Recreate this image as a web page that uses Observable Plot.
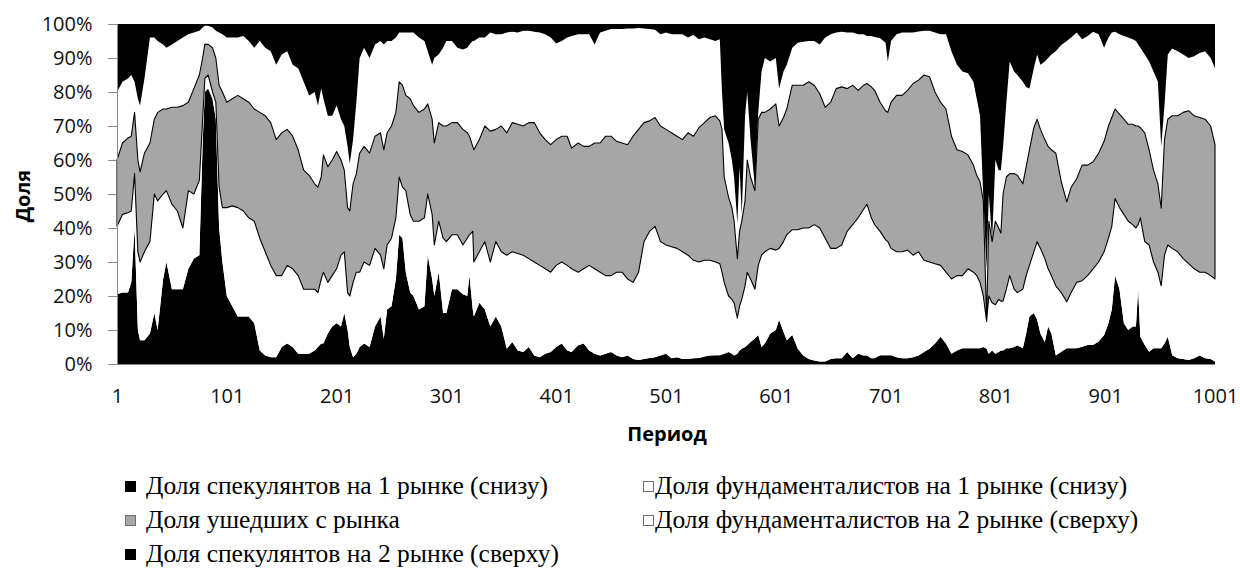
<!DOCTYPE html>
<html><head><meta charset="utf-8">
<script src="https://cdn.jsdelivr.net/npm/d3@7"></script>
<script src="https://cdn.jsdelivr.net/npm/@observablehq/plot@0.6"></script>
<style>
body{margin:0;background:#fff;}
#wrap{position:relative;width:1240px;height:577px;overflow:hidden;background:#fff;}
.sw{position:absolute;width:11px;height:11px;box-sizing:border-box;}
.lt{position:absolute;font-family:"Liberation Serif","Times New Roman",serif;font-size:25.5px;color:#000;white-space:nowrap;line-height:30px;height:30px;}
</style></head><body><div id="wrap"></div>
<script>
const periods = [
1,6,11,14,17,20,22,26,31,35,
38,43,46,51,56,61,66,71,76,79,
81,84,88,91,94,97,101,106,111,116,
121,126,131,136,141,146,151,156,161,166,
171,176,181,184,187,189,193,197,201,205,
208,211,213,216,219,222,226,231,236,241,
244,247,251,255,258,261,264,268,271,276,
281,284,288,290,294,298,301,306,311,316,
320,322,325,326,331,336,341,346,351,356,
361,366,371,376,381,386,391,396,401,406,
411,415,421,426,431,436,441,446,451,456,
461,466,471,476,481,486,491,496,501,506,
511,516,521,526,531,536,541,546,550,552,
554,558,561,563,566,568,570,573,575,578,
582,585,588,591,596,601,604,608,611,616,
621,626,631,636,641,646,651,656,661,666,
671,676,681,684,688,691,696,701,703,706,
711,716,721,726,731,736,741,746,751,756,
761,766,771,776,781,784,787,790,793,795,
798,801,804,806,808,811,814,818,821,826,
829,832,836,839,842,846,849,852,856,861,
866,870,875,880,885,890,895,900,904,907,
910,914,918,922,926,929,931,933,937,941,
945,949,952,955,958,962,967,972,977,982,
987,992,997,1001];

// Доля спекулянтов на 1 рынке (снизу), %
const spec1 = [
20.5,21,21,24,40,10,7,7,9,15,
10,25,30,22,22,22,28,31,32,65,
80,81,78,72,40,30,20,17,14,14,
14,12,4,2.5,2,2,5,6,5,3,
3,3,4,5,6,6,9,11,12,11,
15,10,5,2,3,5,6,5,11,14,
7.5,16,17,25,38,37,27,21,20,16,
17,32,25,20,27,15,15,22,22,20.5,
20,26,16,14,18,16,11,14,11,4.5,
6.5,4,3.5,5,2.5,2,3,3.5,5,6,
4,3.5,5.5,6,4,3,2.5,3,3.5,2.5,
2,2.5,1.5,1.2,1.5,1.8,2,2.5,3,1.7,
2,1.5,1.5,1.7,1.8,2.2,2.5,2.6,2.6,2.8,
3,3.5,3,2.5,3,4,4.5,5,5.5,6.5,
7.5,8.5,5,6,9,10,13,9.5,7,8.5,
4.5,2.5,1.5,1,0.7,0.7,1.5,1.7,1.7,3.5,
1.7,3,2.5,2.5,1.7,1.7,2.6,2.6,2.6,2.6,
2,1.7,1.7,2,2.5,3.5,4.5,6,8,6,
3,4,4.6,4.6,4.6,4.6,4.6,5,4.5,3,
4,3,3.5,4,4,4.6,4.6,5,5.5,4.6,
9,14,15,13,9,6.5,11,9,2.5,3.6,
4.6,4.6,4.6,5.1,5.6,5.6,6.6,8.5,12,16,
26,22,12,10,11,11,22,8,5.6,3.6,
4.6,4.6,4.6,6,8,2.6,1.7,1.5,1.2,1.7,
2.5,1.7,1.5,0.7];

// Доля фундаменталистов на 1 рынке (снизу), %
const fund1 = [
20,23,23.5,21,16,23,23,26,27,35,
38,25,21,25,23,18,23,19,22,7,
4,4,2,5,12,16,26,29.5,32,31,
29,30,33,30.5,27,24,21,23,23,23,
19,19,18,16,19,21,15,15,16,21,
18,11,15,22,24,22,24,24,23,18,
20.5,19,20,18,17,15,24,23,22,26,
26,18,19,15,15,22,21,16,16,14.5,
17,12,23,16,15,20,19,22,22,27.5,
26.5,28.5,28.5,26,27.5,27,25,23.5,24,24,
25,24.5,21.5,22,25,25,24.5,23,22.5,24.5,
25,22.5,22.5,25.8,34.5,37.2,38.5,33.5,32,32.8,
32,31.5,30.5,28.8,28.2,28.3,28,27.4,26.9,24.2,
21,16.5,16,15.5,10.5,13,14.5,18,21.5,18.5,
14.5,20.5,27,27,25,23.5,21,26.5,31,31,
35,37.5,38.5,40,39.3,36.3,32.5,32.3,33.3,35.5,
39.3,40,43,44.5,41.3,39.3,36.4,33.9,33.4,31.4,
31,31.3,31.8,30,30.5,27,25.5,23.5,21,21,
22,22,21.4,23.4,22.4,21.4,19.4,15,8,17,
14,14.4,15.5,14.5,14.5,17.4,21.4,17,15.5,17.4,
17,15,18,23,25,24.5,17,17,20.5,17.4,
13.7,16.4,19.4,19.4,20.4,22.4,23.4,24.5,25,24.5,
22.7,24,32,32,30,29,19,35,30.4,31.4,
25.4,22.4,18.4,26,27,31.4,31.3,29.5,28.3,26.3,
24.5,25.3,24.5,24.3];

// Доля ушедших с рынка, %
const leftMarket = [
19.5,21,22,22,18,27,26.5,29,29,22,
26,25,24,28.5,30.5,36,26,31,31,18,
10,9,13,13,30,34,31,31.5,33,33,
34,33,37,40,42,40,42,40,39,37,
35,33.5,31,31,30,34.5,34,34,34.5,28,
24,25,25,29,29,35,34,33,33,36,
35,33,33,31,28,30,28,34,34,32,
32,26.5,28,30,29,33,34,33,33,34,
31,29,25,33,33,34,38.5,33,37,36,
38,38,38,40,41,39,38,37.5,37,37,
38,35.5,38,36,35,37,38,41,41,38.5,
38,39.5,43,42,35,32.5,32,34,34,33.5,
33,33,36,36.5,39.5,40.5,42,43,42,42,
31,29,27,24,17.5,22,23,25,33,30,
29,43,42,41,41,43,36,36.5,37,42.5,
42.5,42,43,41,39.5,38.5,43,47,46.5,42,
41,37.5,36.5,35.5,38.5,39.5,38,38,38,43,
46,46,47,50.5,50.5,54.5,54.5,50.5,48,48,
42,37,36.5,33.5,31.5,29.5,29.6,28,0.5,22,
18,24.6,21,20,31.5,33,30,34,34.5,31,
32,34,36.5,36,35,35,36,37,39,32.6,
29.4,31,30.5,34,32.5,31.5,32,32.5,33,32,
26.3,27.5,28,28.5,29.5,30,29,26.5,32,28,
27,26,22.8,34,37,39,40,43,45,45,
45.5,45,44,39.5];

// Доля фундаменталистов на 2 рынке (сверху), %
const fund2 = [
20,18,17.5,18,9,18,19.5,22,31,24,
21,19,18,18.5,19.5,20,20,16.5,13,9,
5.5,5.5,6,8,15.5,17,19,18,17,18.5,
18,18,21,20,21,22,23,23,21,24,
26,23.5,27,24,26,16.5,15,13,13.5,12,
13,18,14,13,21,28,29,28,27,27,
31,27,25,22,14.5,15.5,18.5,19.5,21.5,22,
20,15.5,16,25,20,23,25,24,22,23.5,
25,27,31,32,30,26,29,28,27,29.5,
26.7,27,28,27,26.7,29.5,31,31.5,28.3,28,
29,33,32,33,33,29,32.5,31,31.5,33,
33.5,34.2,31.7,29.8,27.7,27,25.8,27,28.5,29,
30,31,28,29.8,26,25,23,22,24,11,
14,16,14,13,10.5,19,2,25,20,11,
1,2,12,16,14,13.5,11,13.5,13,11,
12.5,12.8,12,13,14.5,20.5,20,16.5,16.2,16.5,
15.5,16.5,15,14,15,15.7,18.8,20,15,18,
18,18.5,17,15,14.3,13,13.5,17.5,20,22,
25,25,23.5,24,24.5,22.5,19.4,1,15,8,
0.5,18,17,18.5,14,22,33,30,29.5,30,
23.5,18,17.5,19,19,23,26,28,30,40.2,
47.3,44,43,37,38,38.2,35,27.5,26,25,
22.7,23.5,24.5,25.5,25,25,24,23.5,23,26,
29,30,18.2,10,19,19.8,19,17,15.5,17.5,
19,20,20,22.5];

// Доля спекулянтов на 2 рынке (сверху), %
const spec2 = [
20,17,16,15,17,22,24,16,4,4,
5,6,7,6,5,4,3,2.5,2,1,
0.5,0.5,1,2,2.5,3,4,4,4,3.5,
5,7,5,7,8,12,9,8,12,13,
17,21,20,24,19,22,27,27,24,28,
30,36,41,34,23,10,7,10,6,5,
6,5,5,4,2.5,2.5,2.5,2.5,2.5,4,
5,8,12,10,9,7,5,5,7,7.5,
7,6,5,5,4,4,2.5,3,3,2.5,
2.3,2.5,2,2,2.3,2.5,3,4,5.7,5,
4,3.5,3,3,3,6,2.5,2,1.5,1.5,
1.5,1.3,1.3,1.2,1.3,1.5,1.7,3,2.5,3,
3,3,4,3.2,4.5,4,4.5,5,4.5,20,
31,35,40,45,58.5,42,56,27,20,34,
48,26,14,10,11,10,19,14,12,7,
5.5,5.2,5,5,6,4,3,2.5,2.3,2.5,
2.5,3,3,3.5,3.5,3.8,4.2,5.5,11,5,
3,2.5,2.5,2.5,2.2,2,2,2.5,3,3,
8,12,14,14.5,17,22,27,51,72,50,
63.5,40,43,43,36,23,11,14,15,17,
18.5,19,13,9,12,11,10,9,8,6.2,
5,4,2.5,4.5,3.5,2.3,3,7,4,2.5,
2.3,3,3.5,4,4.5,5,6,7,9,11,
14,17,36,24,9,7.2,8,9,10,9.5,
8.5,8,10,13];

const seriesNames = [
  "Доля спекулянтов на 1 рынке (снизу)",
  "Доля фундаменталистов на 1 рынке (снизу)",
  "Доля ушедших с рынка",
  "Доля фундаменталистов на 2 рынке (сверху)",
  "Доля спекулянтов на 2 рынке (сверху)"
];
const seriesFills = ["#000000", "#ffffff", "#a6a6a6", "#ffffff", "#000000"];
const xTicks = [1,101,201,301,401,501,601,701,801,901,1001];
const yTicks = [0,10,20,30,40,50,60,70,80,90,100];
const yTitle = "Доля";
const xTitle = "Период";

const seriesValues = [spec1, fund1, leftMarket, fund2, spec2];
const rows = [];
periods.forEach((p, i) => seriesValues.forEach((arr, k) => rows.push({period: p, series: seriesNames[k], share: arr[i]})));

const stackOpts = {x: "period", y: "share", z: "series", order: seriesNames, offset: "normalize"};

const chart = Plot.plot({
  width: 1240, height: 450,
  marginLeft: 117, marginRight: 25, marginTop: 24, marginBottom: 86,
  style: {fontFamily: '"Open Sans", sans-serif', fontSize: "20px", color: "#111", background: "#fff", overflow: "visible"},
  x: {domain: [1, 1001], label: null},
  y: {domain: [0, 1], label: null},
  color: {domain: seriesNames, range: seriesFills},
  opacity: {domain: [0, 1], range: [0, 1]},
  marks: [
    Plot.areaY(rows, Plot.stackY({...stackOpts, fill: "series"})),
    Plot.areaY(rows, Plot.stackY({...stackOpts, fill: "none", stroke: "#000", strokeWidth: 1.1,
      strokeOpacity: d => d.series === seriesNames[2] ? 1 : 0})),
    Plot.ruleX([1], {stroke: "#8a8a8a"}),
    Plot.ruleY([0], {stroke: "#8a8a8a"}),
    Plot.axisY({ticks: yTicks.map(t => t / 100), tickSize: 9, tickFormat: () => "", stroke: "#8a8a8a"}),
    Plot.axisY({ticks: yTicks.map(t => t / 100), tickSize: 0, tickPadding: 25, tickFormat: d => Math.round(d * 100) + "%"}),
    Plot.axisX({ticks: xTicks, tickSize: 0, tickPadding: 24, tickFormat: d => String(d)})
  ]
});

const svg = d3.select(chart);
svg.append("text").text(yTitle)
  .attr("transform", "translate(22,196) rotate(-90)")
  .attr("text-anchor", "middle").attr("dominant-baseline", "central")
  .attr("font-weight", "bold").attr("font-size", 20).attr("fill", "#000");
svg.append("text").text(xTitle)
  .attr("x", 667).attr("y", 433)
  .attr("text-anchor", "middle").attr("dominant-baseline", "central")
  .attr("font-weight", "bold").attr("font-size", 20).attr("fill", "#000");

const wrap = document.getElementById("wrap");
chart.style.position = "absolute"; chart.style.left = "0px"; chart.style.top = "0px";
wrap.appendChild(chart);

// legend: [swatch x, text x, row center y]
const legendPos = [[125, 146, 486], [643, 655, 486], [125, 146, 520], [643, 655, 520], [125, 146, 554]];
seriesNames.forEach((name, k) => {
  const [sx, tx, cy] = legendPos[k];
  const sw = document.createElement("div");
  sw.className = "sw";
  sw.style.left = sx + "px";
  sw.style.top = (cy - 5) + "px";
  sw.style.background = seriesFills[k];
  if (seriesFills[k] !== "#000000") sw.style.border = "1px solid #6f6f6f";
  wrap.appendChild(sw);
  const t = document.createElement("div");
  t.className = "lt";
  t.style.left = tx + "px";
  t.style.top = (cy - 15) + "px";
  t.textContent = name;
  wrap.appendChild(t);
});
</script></body></html>
